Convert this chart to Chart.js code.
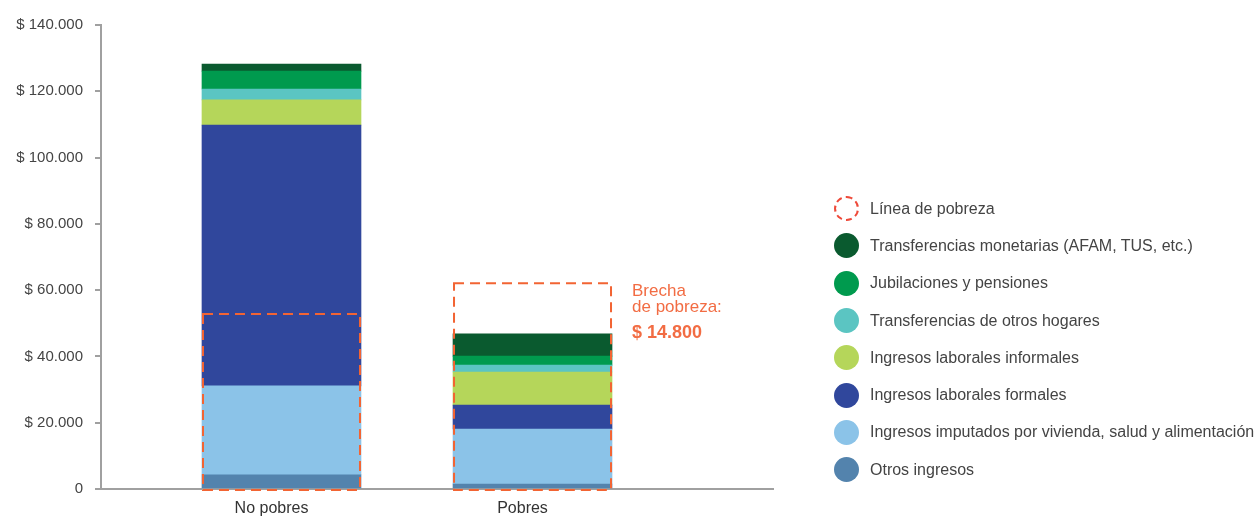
<!DOCTYPE html>
<html lang="es">
<head>
<meta charset="utf-8">
<title>Ingresos de hogares pobres y no pobres</title>
<script src="https://cdn.jsdelivr.net/npm/chart.js@4.4.1/dist/chart.umd.min.js"></script>
<style>
    html, body { margin: 0; padding: 0; background: #fff; }
    #contenedor { position: relative; width: 1254px; height: 517px; }
    #leyenda {
        position: absolute; left: 834px; top: 190px;
        font-family: 'Liberation Sans', Arial, sans-serif; font-size: 16px; color: #444;
    }
    .item { display: flex; align-items: center; height: 37.3px; white-space: nowrap; }
    .punto { width: 25px; height: 25px; border-radius: 50%; margin-right: 11px; box-sizing: border-box; flex: none; }
</style>
</head>
<body>
<div id="contenedor">
    <canvas id="grafico" width="1254" height="517"></canvas>
    <div id="leyenda"></div>
</div>
<script>
// --- datos (pesos por hogar) ---
const categorias = ['No pobres', 'Pobres'];
const posiciones = [0, 1];

const otrosIngresos   = [4300, 1500];
const imputados       = [26800, 16600];
const laboralesFormales   = [78700, 7200];
const laboralesInformales = [7600, 10000];
const otrosHogares    = [3300, 2100];
const jubilaciones    = [5400, 2700];
const transferencias  = [2100, 6700];

const lineaPobreza    = [52800, 62100];
const textoBrecha     = ['Brecha', 'de pobreza:', '$ 14.800'];

const ticksY = [0, 20000, 40000, 60000, 80000, 100000, 120000, 140000];

const NARANJA = '#f26433';

// arma los puntos {x, y} de cada serie sobre el eje lineal
const puntos = serie => serie.map((v, i) => ({ x: posiciones[i], y: v }));

const formatoPesos = v => v === 0 ? '0' : '$ ' + String(v).replace(/\B(?=(\d{3})+(?!\d))/g, '.');

const series = [
    { label: 'Otros ingresos', data: otrosIngresos, color: '#5383ad' },
    { label: 'Ingresos imputados por vivienda, salud y alimentación', data: imputados, color: '#8bc3e8' },
    { label: 'Ingresos laborales formales', data: laboralesFormales, color: '#30479c' },
    { label: 'Ingresos laborales informales', data: laboralesInformales, color: '#b5d65a' },
    { label: 'Transferencias de otros hogares', data: otrosHogares, color: '#5bc5c2' },
    { label: 'Jubilaciones y pensiones', data: jubilaciones, color: '#009a4e' },
    { label: 'Transferencias monetarias (AFAM, TUS, etc.)', data: transferencias, color: '#0a5a2f' }
];

const datasets = series.map(s => ({
    label: s.label,
    data: puntos(s.data),
    backgroundColor: s.color,
    borderWidth: 0,
    stack: 'ingresos',
    grouped: false,
    barThickness: 159
}));

datasets.push({
    label: 'Línea de pobreza',
    data: puntos(lineaPobreza),
    backgroundColor: 'rgba(0,0,0,0)',
    borderWidth: 0,
    stack: 'linea',
    grouped: false,
    barThickness: 159,
    esLinea: true
});

// Dibuja el recuadro punteado de la línea de pobreza y el texto de la brecha
const pluginLinea = {
    id: 'lineaPobreza',
    afterDatasetsDraw(chart) {
        const ctx = chart.ctx;
        const idx = chart.data.datasets.findIndex(d => d.esLinea);
        const meta = chart.getDatasetMeta(idx);
        ctx.save();
        ctx.strokeStyle = NARANJA;
        ctx.lineWidth = 2;
        ctx.setLineDash([10, 6]);
        meta.data.forEach(el => {
            const izq = el.x - el.width / 2 + 1;
            const der = el.x + el.width / 2 - 1;
            ctx.strokeRect(izq, el.y, der - izq, el.base + 2 - el.y);
        });
        ctx.setLineDash([]);

        // texto de la brecha al costado de la barra de pobres
        const el = meta.data[1];
        const x = el.x + el.width / 2 + 20;
        ctx.fillStyle = '#f26c43';
        ctx.textBaseline = 'alphabetic';
        ctx.font = '17px "Liberation Sans", Arial, sans-serif';
        ctx.fillText(textoBrecha[0], x, el.y + 13);
        ctx.fillText(textoBrecha[1], x, el.y + 29);
        ctx.font = 'bold 18px "Liberation Sans", Arial, sans-serif';
        ctx.fillText(textoBrecha[2], x, el.y + 55);
        ctx.restore();
    }
};

const grafico = new Chart(document.getElementById('grafico'), {
    type: 'bar',
    data: { datasets },
    options: {
        responsive: false,
        animation: false,
        layout: { padding: { left: 0, right: 481, top: 25, bottom: 0 } },
        plugins: {
            legend: { display: false },
            tooltip: { enabled: false }
        },
        scales: {
            x: {
                type: 'linear',
                offset: false,
                min: -0.719,
                max: 1.958,
                afterBuildTicks: eje => { eje.ticks = posiciones.map(v => ({ value: v })); },
                afterFit: eje => { eje.height = 28; },
                grid: { display: false, drawTicks: false, offset: false },
                border: { display: true, color: '#a0a0a0', width: 2 },
                ticks: {
                    padding: 10,
                    labelOffset: -10,
                    color: '#333',
                    font: { family: "'Liberation Sans', Arial, sans-serif", size: 16 },
                    callback: v => categorias[v]
                }
            },
            y: {
                stacked: true,
                min: 0,
                max: 140000,
                afterBuildTicks: eje => { eje.ticks = ticksY.map(v => ({ value: v })); },
                afterFit: eje => { eje.width = 101; },
                grid: { drawOnChartArea: false, drawTicks: true, tickLength: 6, color: '#a0a0a0', lineWidth: 2 },
                border: { display: true, color: '#a0a0a0', width: 2 },
                ticks: {
                    padding: 12,
                    color: '#444',
                    font: { family: "'Liberation Sans', Arial, sans-serif", size: 15 },
                    callback: v => formatoPesos(v)
                }
            }
        }
    },
    plugins: [pluginLinea]
});

// Leyenda armada a partir de los datasets (de arriba hacia abajo)
const leyenda = document.getElementById('leyenda');
[...grafico.data.datasets].reverse().forEach(ds => {
    const item = document.createElement('div');
    item.className = 'item';
    const punto = document.createElement('span');
    punto.className = 'punto';
    if (ds.esLinea) {
        punto.style.border = '2px dashed #ee4a3a';
    } else {
        punto.style.background = ds.backgroundColor;
    }
    const texto = document.createElement('span');
    texto.textContent = ds.label;
    item.appendChild(punto);
    item.appendChild(texto);
    leyenda.appendChild(item);
});
</script>
</body>
</html>
